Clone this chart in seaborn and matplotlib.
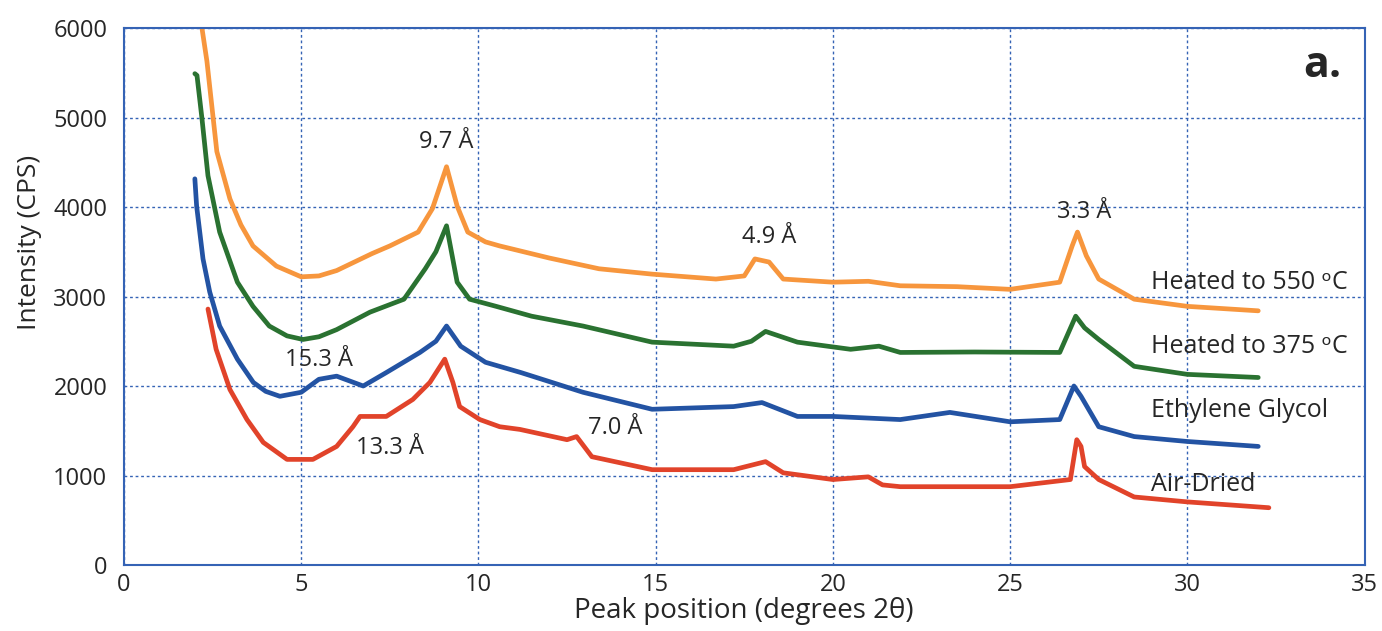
import matplotlib
matplotlib.use("Agg")
import matplotlib.pyplot as plt
import seaborn as sns

# Valores (posição 2θ, intensidade CPS)
x_550 = [2.2, 2.34, 2.62, 2.99, 3.3, 3.64, 4.3, 5.0, 5.5, 6.0, 6.5, 7.0, 7.5, 8.3, 8.7, 9.1,
         9.4, 9.7, 10.2, 10.6, 12.0, 13.4, 14.9, 16.7, 17.5, 17.8, 18.2, 18.6, 20.0, 21.0,
         21.9, 23.5, 25.0, 26.4, 26.75, 26.9, 27.15, 27.5, 28.5, 30.0, 32.0]
y_550 = [6000, 5630, 4620, 4090, 3800, 3565, 3340, 3220, 3230, 3290, 3385, 3480, 3565, 3720,
         3980, 4450, 4010, 3720, 3610, 3565, 3430, 3310, 3250, 3195, 3230, 3420, 3385, 3195,
         3160, 3170, 3120, 3110, 3080, 3160, 3565, 3720, 3455, 3195, 2970, 2890, 2840]

x_375 = [2.0, 2.06, 2.2, 2.37, 2.7, 3.2, 3.64, 4.1, 4.6, 5.05, 5.5, 6.0, 6.94, 7.9, 8.5,
         8.8, 9.1, 9.4, 9.75, 10.5, 11.5, 12.95, 14.9, 17.2, 17.7, 18.1, 19.0, 20.5, 21.3,
         21.9, 24.0, 26.4, 26.85, 27.1, 27.5, 28.5, 30.0, 32.0]
y_375 = [5490, 5470, 4990, 4350, 3720, 3160, 2890, 2670, 2560, 2520, 2550, 2630, 2825, 2970,
         3310, 3500, 3790, 3160, 2970, 2890, 2780, 2670, 2490, 2445, 2500, 2610, 2490, 2410,
         2445, 2375, 2380, 2375, 2780, 2650, 2520, 2220, 2130, 2095]

x_eg = [2.0, 2.05, 2.23, 2.42, 2.7, 3.2, 3.65, 4.0, 4.4, 5.0, 5.5, 6.0, 6.75, 7.4, 8.35,
        8.8, 9.1, 9.5, 10.2, 11.2, 12.95, 14.9, 17.2, 18.0, 19.0, 20.0, 21.9, 23.3, 25.0,
        26.4, 26.8, 27.0, 27.5, 28.5, 30.0, 32.0]
y_eg = [4315, 4010, 3420, 3050, 2670, 2300, 2040, 1940, 1885, 1930, 2075, 2110, 2000, 2150,
        2375, 2500, 2670, 2445, 2265, 2150, 1930, 1740, 1770, 1815, 1660, 1660, 1625, 1705,
        1600, 1625, 2000, 1885, 1545, 1435, 1380, 1325]

x_ad = [2.37, 2.6, 2.99, 3.47, 3.93, 4.6, 5.33, 6.0, 6.46, 6.66, 7.4, 8.15, 8.63, 9.05,
        9.28, 9.47, 10.04, 10.6, 11.17, 12.5, 12.77, 13.2, 14.9, 17.2, 18.1, 18.6, 20.0,
        21.0, 21.4, 21.9, 25.0, 26.7, 26.88, 27.0, 27.1, 27.5, 28.5, 30.0, 32.3]
y_ad = [2860, 2410, 1960, 1625, 1370, 1180, 1180, 1325, 1545, 1660, 1660, 1850, 2040, 2300,
        2040, 1770, 1625, 1545, 1515, 1400, 1435, 1210, 1065, 1065, 1155, 1030, 955, 985,
        895, 875, 875, 955, 1400, 1325, 1100, 955, 760, 705, 640]

series_labels = ["Heated to 550 \u1d52C", "Heated to 375 \u1d52C", "Ethylene Glycol", "Air-Dried"]
label_y = [3160, 2440, 1725, 905]

peak_labels = ["9.7 Å", "4.9 Å", "3.3 Å", "15.3 Å", "13.3 Å", "7.0 Å"]
peak_x = [9.1, 18.2, 27.1, 5.5, 7.5, 13.85]
peak_y = [4725, 3660, 3940, 2295, 1310, 1535]

cores = ["#F7963D", "#2A7231", "#2353A3", "#E1432A"]
azul_grade = "#3563B5"

sns.set_style("white")
plt.rcParams['font.family'] = ['Open Sans', 'DejaVu Sans']

fig = plt.figure(figsize=(13.82, 6.31), dpi=100)
ax = fig.add_axes([0.0897, 0.1046, 0.8977, 0.851])

for xs, ys, c in zip([x_550, x_375, x_eg, x_ad], [y_550, y_375, y_eg, y_ad], cores):
    sns.lineplot(x=xs, y=ys, color=c, linewidth=3.4, sort=False, estimator=None, ax=ax)

ax.set_xlim(0, 35)
ax.set_ylim(0, 6000)
ax.set_xticks(range(0, 36, 5))
ax.set_yticks(range(0, 6001, 1000))
ax.grid(True, color=azul_grade, linestyle=(0, (2, 2)), linewidth=1)
for s in ax.spines.values():
    s.set_color(azul_grade)
    s.set_linewidth(1.5)
ax.tick_params(axis="y", labelsize=17, length=0, pad=12)
ax.tick_params(axis="x", labelsize=17, length=0, pad=6)

ax.set_xlabel("Peak position (degrees 2θ)", fontsize=20, labelpad=0)
ax.set_ylabel("Intensity (CPS)", fontsize=19)
ax.yaxis.set_label_coords(-0.066, 0.6)

for txt, xx, yy in zip(peak_labels, peak_x, peak_y):
    ax.text(xx, yy, txt, fontsize=17, ha="center", va="center")

for txt, yy in zip(series_labels, label_y):
    ax.text(28.98, yy, txt, fontsize=18, ha="left", va="center")

ax.text(33.8, 5580, "a.", fontsize=31, fontweight="bold", ha="center", va="center")

plt.savefig("out.png", dpi=100)
